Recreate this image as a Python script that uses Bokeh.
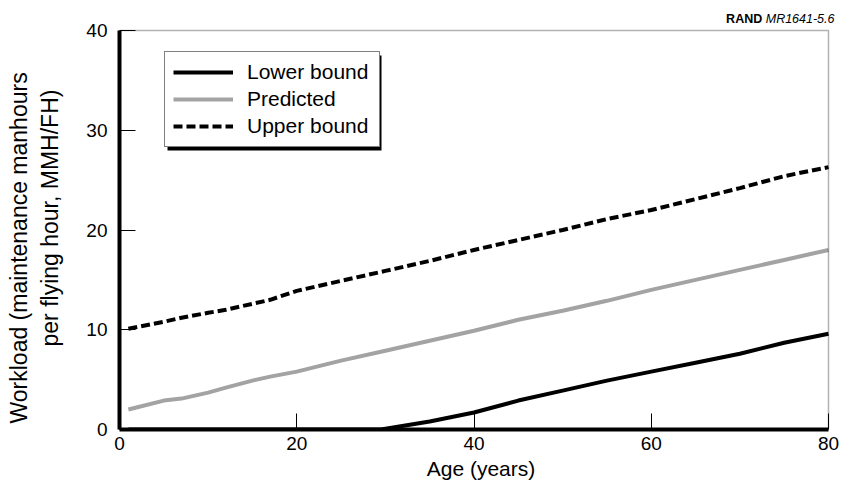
from bokeh.plotting import figure
from bokeh.models import Range1d, Legend, LegendItem, Label, BoxAnnotation, Title
from bokeh.embed import file_html
from bokeh.resources import INLINE

# ---- data ----
age = [1, 5, 7, 10, 12, 15, 17, 20, 25, 30, 35, 40, 45, 50, 55, 60, 65, 70, 75, 80]
upper_bound = [10.1, 10.8, 11.2, 11.7, 12.0, 12.6, 13.0, 13.9, 14.9, 15.9, 16.9,
               18.0, 19.0, 20.0, 21.1, 22.0, 23.1, 24.2, 25.4, 26.3]
predicted = [2.0, 2.9, 3.1, 3.7, 4.2, 4.9, 5.3, 5.8, 6.9, 7.9, 8.9,
             9.9, 11.0, 11.9, 12.9, 14.0, 15.0, 16.0, 17.0, 18.0]
lower_age = [1, 29.5, 35, 40, 45, 50, 55, 60, 65, 70, 75, 80]
lower_bound = [0, 0, 0.8, 1.7, 2.9, 3.9, 4.9, 5.8, 6.7, 7.6, 8.7, 9.6]
x_ticks = [0, 20, 40, 60, 80]
y_ticks = [0, 10, 20, 30, 40]
series_names = ["Lower bound", "Predicted", "Upper bound"]
x_limits = (0, 80)
y_limits = (0, 40)
y_title_lines = ["Workload (maintenance manhours", "per flying hour, MMH/FH)"]

FONT = "Liberation Sans"

# ---- layout geometry (pixels) ----
W, H = 842, 494
box_left, box_right, box_top, box_bottom = 119, 828, 30, 429   # visible plot box
# the drawing frame is extended up/right so the top-right caption can sit inside it
x_end = x_limits[0] + (x_limits[1] - x_limits[0]) * (W - box_left) / (box_right - box_left)
y_end = y_limits[0] + (y_limits[1] - y_limits[0]) * box_bottom / (box_bottom - box_top)

p = figure(width=W, height=H, title=None,
           x_range=Range1d(x_limits[0], x_end), y_range=Range1d(y_limits[0], y_end),
           output_backend="svg", toolbar_location=None,
           min_border_left=box_left, min_border_right=0, min_border_top=0,
           min_border_bottom=H - box_bottom)
p.xgrid.visible = False
p.ygrid.visible = False
p.outline_line_color = None
p.background_fill_color = "white"
p.border_fill_color = "white"

for ax in (p.xaxis[0], p.yaxis[0]):
    ax.axis_line_color = "black"
    ax.axis_line_width = 4
    ax.major_tick_in = 16
    ax.major_tick_out = 0
    ax.major_tick_line_color = "black"
    ax.major_tick_line_width = 1
    ax.minor_tick_line_color = None
    ax.major_label_text_font = FONT
    ax.major_label_text_font_size = "19px"
    ax.major_label_text_color = "black"
    ax.axis_label_text_font = FONT
    ax.axis_label_text_font_style = "normal"
    ax.axis_label_text_color = "black"

p.xaxis.bounds = x_limits
p.yaxis.bounds = y_limits
p.xaxis.ticker = x_ticks
p.yaxis.ticker = y_ticks
p.xaxis.major_label_standoff = 7
p.yaxis.major_label_standoff = 12
p.xaxis.axis_label = "Age (years)"
p.xaxis.axis_label_text_font_size = "21px"
p.xaxis.axis_label_standoff = 4
# blank spacer label: leaves a gap between the tick labels and the side titles
p.yaxis.axis_label = " "
p.yaxis.axis_label_text_font_size = "1px"
p.yaxis.axis_label_standoff = 14

# two-line y-axis title, as side titles (second line nearest the axis)
p.add_layout(Title(text=y_title_lines[1], align="left", offset=83, standoff=6,
                   text_font=FONT, text_font_size="23px", text_font_style="normal",
                   text_color="black"), "left")
p.add_layout(Title(text=y_title_lines[0], align="left", offset=6, standoff=0,
                   text_font=FONT, text_font_size="23px", text_font_style="normal",
                   text_color="black"), "left")

r_upper = p.line(age, upper_bound, line_color="black", line_width=4, line_dash="9 4")
r_pred = p.line(age, predicted, line_color="#a3a3a3", line_width=4)
r_lower = p.line(lower_age, lower_bound, line_color="black", line_width=4)

# thin outline of the plot box (top / right)
p.add_layout(BoxAnnotation(left=x_limits[0], right=x_limits[1],
                           bottom=y_limits[0], top=y_limits[1],
                           fill_color=None, line_color="black", line_width=1.5), "center")

# legend geometry (screen px, relative to plot frame bottom-left)
leg_x, leg_y, leg_w, leg_h, shadow = 45, 282, 214, 95, 3
p.add_layout(BoxAnnotation(left=leg_x + shadow, right=leg_x + leg_w + shadow,
                           bottom=leg_y - shadow, top=leg_y + leg_h - shadow,
                           left_units="screen", right_units="screen",
                           bottom_units="screen", top_units="screen",
                           fill_color="black", fill_alpha=1, line_color=None), "center")

legend = Legend(items=[LegendItem(label=series_names[0], renderers=[r_lower]),
                       LegendItem(label=series_names[1], renderers=[r_pred]),
                       LegendItem(label=series_names[2], renderers=[r_upper])],
                location=(leg_x, leg_y), padding=8, margin=0, spacing=3,
                glyph_width=60, glyph_height=18, label_height=18, label_width=124,
                label_standoff=14, label_text_font=FONT, label_text_font_size="21px",
                label_text_color="black", label_text_baseline="middle",
                border_line_color="black", border_line_width=1.5,
                background_fill_color="white", background_fill_alpha=1)
p.add_layout(legend, "center")

# caption "RAND MR1641-5.6" at top right
cap_right = 834 - box_left
cap_base = box_bottom - 18
cap_size = 12.5
p.add_layout(Label(x=cap_right, y=cap_base, x_units="screen", y_units="screen",
                   text="MR1641-5.6", text_font=FONT, text_font_size=f"{cap_size}px",
                   text_font_style="italic", text_color="black",
                   text_align="right", text_baseline="alphabetic"))
p.add_layout(Label(x=cap_right - 5.502 * cap_size - 3.5, y=cap_base, x_units="screen",
                   y_units="screen", text="RAND", text_font=FONT,
                   text_font_size=f"{cap_size}px", text_font_style="bold",
                   text_color="black", text_align="right", text_baseline="alphabetic"))

open("out.html", "w").write(file_html(p, INLINE))
